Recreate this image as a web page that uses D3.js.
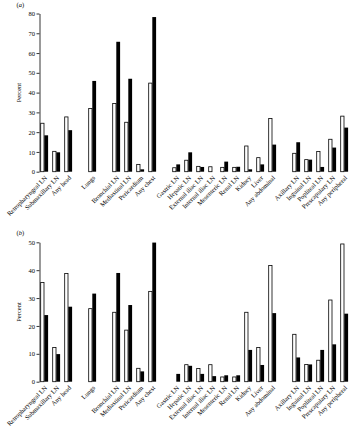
<!DOCTYPE html>
<html><head><meta charset="utf-8">
<script src="https://cdn.jsdelivr.net/npm/d3@7"></script>
<style>
html,body{margin:0;padding:0;background:#fff;}
svg{display:block;}
text{font-family:"Liberation Serif","Times New Roman",serif;fill:#000;}
</style></head>
<body>
<svg id="c" width="350" height="429"></svg>
<script>
const groups = [
  ["Retropharyngeal LN","Submaxillary LN","Any head"],
  ["Lungs"],
  ["Bronchial LN","Mediastinal LN","Pericardium","Any chest"],
  ["Gastric LN","Hepatic LN","External iliac LN","Internal iliac LN","Mesenteric LN","Renal LN","Kidney","Liver","Any abdominal"],
  ["Axillary LN","Inguinal LN","Popliteal LN","Prescapulary LN","Any peripheral"]
];
const categories = groups.flat();
const aWhite = [24.5,10.3,27.7, 32, 34.5,25,3.7,44.8, 2,5.8,2.7,2.5,2.2,2.2,13,7.1,26.9, 9.3,6.1,10.2,16.4,28.1];
const aBlack = [18.4,9.8,21, 45.9, 65.7,47,1.2,78.2, 3.7,9.8,2.4,0,5.1,2.5,1.2,3.7,13.7, 14.9,6.1,2.4,12.2,22.3];
const bWhite = [35.6,12.3,38.8, 26.2, 24.9,18.5,4.8,32.4, 0,6.1,4.7,6.1,1.7,1.7,24.9,12.3,41.7, 17,6.2,7.7,29.3,49.4];
const bBlack = [23.9,9.9,26.9, 31.6, 39,27.5,3.7,49.9, 2.8,5.7,2.8,2,2.3,2.3,11.4,6,24.6, 8.7,6.2,11.4,13.4,24.4];
const aTicks = [0,10,20,30,40,50,60,70,80];
const bTicks = [0,10,20,30,40,50];
const yLabel = "Percent";

// slot domain with one empty slot between groups
const slots = [];
groups.forEach((g,i)=>{ if(i>0) slots.push("__gap"+i); g.forEach(c=>slots.push(c)); });

const svg = d3.select("#c");
const x0 = d3.scaleBand().domain(slots).range([40, 40 + 12*slots.length]).padding(0);
const x1 = d3.scaleBand().domain(["w","b"]).range([0, 8]);

function panel(tag, white, black, ticks, yTop, yBottom, tagY){
  const y = d3.scaleLinear().domain([0, d3.max(ticks)]).range([yBottom, yTop]);
  const g = svg.append("g");
  const ax = g.append("g").attr("transform","translate(39.5,0)")
    .call(d3.axisLeft(y).tickValues(ticks).tickSize(3).tickSizeOuter(0).tickPadding(1.5));
  ax.selectAll("path,line").attr("stroke","#000").attr("stroke-width",0.8);
  ax.selectAll("text").style("font-size","6.5px").style("font-family","'Liberation Serif',serif");
  g.append("text").attr("transform",`translate(21,${(yTop+yBottom)/2}) rotate(-90)`)
    .attr("text-anchor","middle").style("font-size","6.5px").text(yLabel);
  g.append("text").attr("x",16.5).attr("y",tagY).style("font-size","6.5px")
    .html('(<tspan font-style="italic">'+tag+'</tspan>)');
  const rows = categories.map((c,i)=>({c, w:white[i], b:black[i]}));
  g.selectAll(".w").data(rows.filter(d=>d.w>0)).join("rect")
    .attr("x",d=>x0(d.c)+x1("w")+0.7).attr("width",x1.bandwidth()-0.7)
    .attr("y",d=>y(d.w)).attr("height",d=>y(0)-y(d.w))
    .attr("fill","#fff").attr("stroke","#000").attr("stroke-width",0.8);
  g.selectAll(".b").data(rows.filter(d=>d.b>0)).join("rect")
    .attr("x",d=>x0(d.c)+x1("b")+0.3).attr("width",x1.bandwidth()-0.2)
    .attr("y",d=>y(d.b)).attr("height",d=>y(0)-y(d.b))
    .attr("fill","#000");
  g.selectAll(".lbl").data(categories).join("text")
    .attr("transform",d=>`translate(${x0(d)+x1.bandwidth()+2},${yBottom+5}) rotate(-45)`)
    .attr("text-anchor","end").attr("dy","0.35em").style("font-size","6.5px").text(d=>d);
}
panel("a", aWhite, aBlack, aTicks, 13.5, 171.7, 7);
panel("b", bWhite, bBlack, bTicks, 242.3, 381.7, 235);
</script>
</body></html>
